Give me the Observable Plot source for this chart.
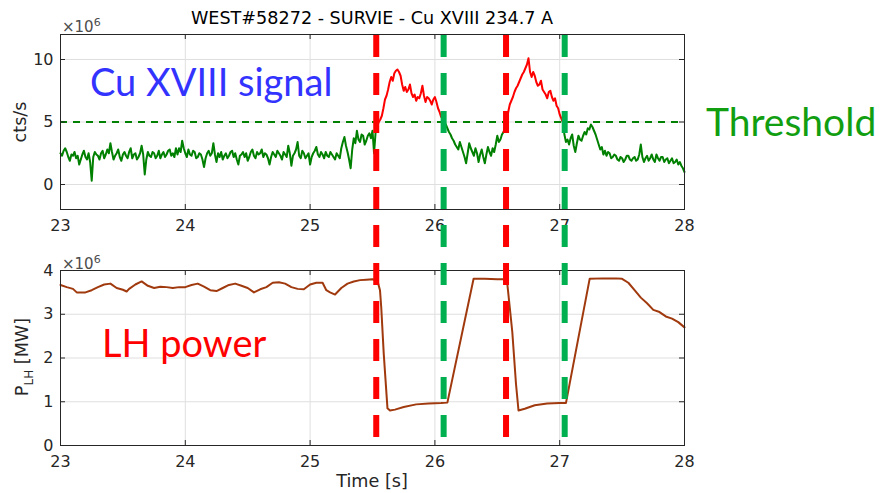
<!DOCTYPE html>
<html>
<head>
<meta charset="utf-8">
<script src="https://cdn.jsdelivr.net/npm/d3@7"></script>
<script src="https://cdn.jsdelivr.net/npm/@observablehq/plot@0.6"></script>
<style>
  html, body { margin: 0; padding: 0; background: #fff; }
  #root { position: relative; width: 880px; height: 493px; overflow: hidden; font-family: "DejaVu Sans", sans-serif; color: #262626; }
  #root > svg { position: absolute; left: 0; }
  .t { position: absolute; white-space: nowrap; line-height: 1; }
  .ann { font-family: Lato, "Open Sans", sans-serif; font-size: 38px; }
</style>
</head>
<body>
<div id="root"></div>
<script>
// ---------- data ----------
const chartTitle = "WEST#58272 - SURVIE - Cu XVIII 234.7 A";
const xTicks = [23, 24, 25, 26, 27, 28];
const signalTicks = [0, 5, 10];
const powerTicks = [0, 1, 2, 3, 4];
const threshold = 5;

// Cu XVIII signal (x10^6 cts/s), sampled every 0.0125 s from 23 s
const signalStart = 23;
const signalStep = 0.0125;
const signalValues = [
  2.5, 2.3, 2.7, 2.9, 2.6, 2.2, 1.9, 2.4, 2.3, 2.6, 2.1, 2.3, 1.6, 2.0, 2.4, 2.7, 2.2, 2.0, 2.5, 1.8,
  0.3, 2.2, 2.6, 2.4, 2.3, 2.0, 2.5, 2.7, 2.1, 2.4, 2.8, 2.5, 3.3, 2.6, 2.0, 2.3, 2.5, 2.8, 2.2, 1.9,
  2.4, 2.6, 2.3, 2.1, 2.6, 2.9, 2.1, 2.4, 2.5, 2.0, 2.2, 2.5, 3.1, 2.4, 0.8, 2.0, 2.6, 2.3, 2.2, 2.6,
  2.5, 2.1, 2.3, 2.7, 2.1, 2.4, 2.6, 2.2, 2.4, 2.7, 2.8, 2.3, 2.5, 2.2, 2.9, 2.4, 2.9, 2.6, 3.5, 2.9,
  2.5, 2.2, 2.8, 2.4, 2.3, 2.7, 2.6, 2.1, 2.2, 2.5, 2.4, 2.0, 1.4, 2.1, 2.5, 2.7, 2.3, 2.5, 3.3, 2.4,
  1.8, 2.5, 2.2, 2.6, 2.0, 2.3, 2.5, 2.1, 2.3, 2.6, 2.7, 2.2, 2.5, 2.0, 1.6, 2.3, 2.4, 2.6, 2.2, 2.5,
  1.9, 2.2, 2.6, 2.8, 2.3, 2.1, 2.6, 2.4, 2.5, 2.8, 2.2, 2.5, 2.4, 2.1, 1.6, 2.2, 2.6, 2.4, 2.2, 2.7,
  2.5, 2.3, 2.0, 2.6, 2.4, 2.2, 3.1, 2.5, 1.5, 2.3, 2.5, 2.8, 3.4, 2.3, 2.1, 2.7, 2.5, 2.1, 2.3, 2.5,
  1.6, 2.2, 2.5, 2.7, 3.0, 2.4, 2.2, 2.6, 2.4, 2.1, 2.6, 2.3, 2.2, 2.6, 2.4, 2.2, 2.0, 2.5, 2.3, 2.1,
  2.9, 3.4, 3.8, 3.1, 2.6, 2.0, 1.3, 2.8, 3.7, 3.3, 4.3, 3.6, 3.4, 4.0, 3.9, 3.2, 3.5, 3.9, 4.1, 3.7,
  4.3, 2.5, 4.2, 4.7, 5.0, 5.2, 5.5, 6.1, 6.8, 7.1, 7.6, 8.2, 8.6, 8.3, 8.9, 9.1, 9.2, 9.0, 8.7, 8.0,
  7.5, 7.8, 7.4, 7.6, 8.0, 7.3, 7.0, 7.2, 6.7, 7.0, 6.9, 7.3, 7.9, 7.1, 6.6, 7.0, 6.9, 6.7, 6.4, 6.8,
  7.0, 6.6, 6.1, 5.8, 5.4, 5.3, 5.0, 4.8, 4.5, 4.2, 4.0, 3.7, 3.5, 3.2, 3.0, 2.8, 3.4, 3.0, 2.6, 2.2,
  1.7, 2.5, 3.3, 2.9, 2.6, 2.3, 2.9, 2.5, 1.8, 2.4, 2.8, 2.2, 1.7, 2.4, 3.0, 2.6, 2.3, 2.9, 2.6, 3.2,
  3.9, 3.4, 3.6, 4.0, 4.2, 4.6, 5.1, 5.8, 6.4, 6.7, 7.0, 7.4, 7.7, 7.9, 8.2, 8.5, 8.8, 9.0, 9.3, 9.6,
  10.1, 9.0, 8.6, 9.0, 8.7, 8.2, 7.9, 8.0, 8.3, 7.6, 7.4, 7.2, 6.9, 7.4, 7.5, 7.0, 6.7, 6.9, 6.3, 6.1,
  5.6, 5.3, 5.0, 4.0, 3.4, 3.6, 3.2, 3.7, 4.0, 3.1, 2.6, 3.3, 3.9, 3.6, 3.5, 3.9, 4.2, 4.0, 4.5, 4.4,
  4.8, 4.6, 4.3, 4.0, 3.6, 3.2, 2.8, 3.0, 2.4, 2.7, 2.3, 2.6, 2.5, 2.1, 2.2, 2.4, 2.3, 2.0, 1.9, 2.2,
  2.1, 1.8, 2.0, 2.3, 2.3, 2.0, 1.9, 2.1, 2.2, 1.9, 2.0, 2.4, 3.2, 2.2, 1.8, 2.1, 2.3, 1.9, 2.1, 2.4,
  2.0, 1.8, 2.4, 2.1, 1.9, 2.2, 2.2, 1.8, 2.0, 2.1, 1.7, 1.9, 2.1, 1.7, 1.8, 2.0, 1.6, 1.8, 1.5, 1.3,
  1.0
];
// intervals where the signal is drawn red (above threshold)
const aboveStart = [25.525, 26.55];
const aboveEnd = [26.075, 27.025];

// LH power (x10^6 MW)
const powerTime = [
  23.00, 23.05, 23.10, 23.13, 23.20, 23.25, 23.30, 23.35, 23.40, 23.45,
  23.50, 23.53, 23.55, 23.60, 23.65, 23.70, 23.75, 23.80, 23.85, 23.90,
  23.95, 24.00, 24.05, 24.10, 24.15, 24.20, 24.25, 24.30, 24.35, 24.40,
  24.45, 24.50, 24.55, 24.60, 24.65, 24.70, 24.75, 24.80, 24.85, 24.90,
  24.95, 25.00, 25.05, 25.10, 25.13, 25.16, 25.20, 25.25, 25.30, 25.35,
  25.40, 25.45, 25.50, 25.54, 25.56, 25.57, 25.59, 25.62, 25.64, 25.68,
  25.75, 25.85, 25.95, 26.05, 26.10, 26.31, 26.40, 26.50, 26.55, 26.58,
  26.60, 26.62, 26.65, 26.67, 26.72, 26.80, 26.90, 27.00, 27.05, 27.24,
  27.35, 27.45, 27.50, 27.55, 27.60, 27.65, 27.70, 27.75, 27.80, 27.85,
  27.90, 27.95, 28.00
];
const powerValue = [
  3.67, 3.62, 3.58, 3.50, 3.50, 3.55, 3.62, 3.68, 3.70, 3.60,
  3.56, 3.52, 3.58, 3.68, 3.75, 3.65, 3.60, 3.63, 3.62, 3.60,
  3.62, 3.62, 3.67, 3.70, 3.63, 3.55, 3.53, 3.60, 3.67, 3.70,
  3.65, 3.60, 3.50, 3.57, 3.62, 3.72, 3.73, 3.70, 3.62, 3.58,
  3.57, 3.68, 3.72, 3.72, 3.55, 3.50, 3.45, 3.60, 3.70, 3.75,
  3.78, 3.79, 3.80, 3.76, 3.55, 3.16, 2.10, 0.85, 0.80, 0.82,
  0.88, 0.94, 0.96, 0.97, 0.98, 3.81, 3.81, 3.80, 3.80, 3.70,
  3.15, 2.60, 1.40, 0.80, 0.84, 0.92, 0.96, 0.97, 0.97, 3.81,
  3.82, 3.82, 3.81, 3.72, 3.55, 3.38, 3.25, 3.10, 3.05, 2.95,
  2.90, 2.82, 2.70
];

// event markers (s)
const onsetTimes = [25.53, 26.57];   // red dashed
const recoveryTimes = [26.07, 27.04]; // green dashed

// ---------- build rows ----------
const signalRows = signalValues.map((v, i) => ({t: Math.round((signalStart + i * signalStep) * 10000) / 10000, v}));
const isAbove = t => aboveStart.some((a, k) => t >= a - 1e-9 && t <= aboveEnd[k] + 1e-9);
const segments = [];
let cur = null;
signalRows.forEach((p, i) => {
  const red = isAbove(p.t);
  if (!cur) { cur = {red, pts: [p]}; segments.push(cur); return; }
  if (red === cur.red) { cur.pts.push(p); return; }
  if (red) { cur.pts.push(p); cur = {red, pts: [p]}; }
  else { const prev = signalRows[i - 1]; cur = {red, pts: [prev, p]}; }
  segments.push(cur);
});
const powerRows = powerTime.map((t, i) => ({t, v: powerValue[i]}));

// ---------- layout ----------
const W = 880, L = 60, R = 196;
const frameW = W - L - R;
const axisStyle = {fontFamily: "DejaVu Sans, sans-serif", fontSize: "16px", color: "#262626", background: "transparent", overflow: "visible"};
const gridColor = "#dfdfdf";
const frameColor = "#262626";

function panel({height, mTop, mBottom, yDomain, yTicks, marks}) {
  const frameH = height - mTop - mBottom;
  return Plot.plot({
    width: W, height,
    marginLeft: L, marginRight: R, marginTop: mTop, marginBottom: mBottom,
    x: {domain: [23, 28], ticks: xTicks, label: null},
    y: {domain: yDomain, ticks: yTicks, label: null},
    style: axisStyle,
    marks: [
      Plot.gridX(xTicks, {stroke: gridColor, strokeOpacity: 1}),
      Plot.gridY(yTicks, {stroke: gridColor, strokeOpacity: 1}),
      ...marks,
      Plot.tickX(xTicks, {x: d => d, insetTop: frameH - 5, stroke: frameColor}),
      Plot.tickX(xTicks, {x: d => d, insetBottom: frameH - 5, stroke: frameColor}),
      Plot.tickY(yTicks, {y: d => d, insetRight: frameW - 5, stroke: frameColor}),
      Plot.tickY(yTicks, {y: d => d, insetLeft: frameW - 5, stroke: frameColor}),
      Plot.axisX(xTicks, {tickSize: 0, tickPadding: 10, label: null, tickFormat: d => String(d)}),
      Plot.axisY(yTicks, {tickSize: 0, tickPadding: 7, label: null, tickFormat: d => String(d)}),
      Plot.frame({stroke: frameColor, strokeWidth: 1})
    ]
  });
}

const topPlot = panel({
  height: 240, mTop: 34, mBottom: 31, yDomain: [-2, 12], yTicks: signalTicks,
  marks: [
    Plot.ruleY([threshold], {stroke: "#008000", strokeWidth: 2, strokeDasharray: "7,6"}),
    ...segments.map(s => Plot.line(s.pts, {x: "t", y: "v", stroke: s.red ? "#ff0000" : "#008000", strokeWidth: 2, strokeLinejoin: "round"}))
  ]
});
topPlot.style.top = "0px";

const bottomPlot = panel({
  height: 253, mTop: 30, mBottom: 48, yDomain: [0, 4], yTicks: powerTicks,
  marks: [
    Plot.line(powerRows, {x: "t", y: "v", stroke: "#a03a0e", strokeWidth: 2, strokeLinejoin: "round"})
  ]
});
bottomPlot.style.top = "240px";

const overlayPlot = Plot.plot({
  width: W, height: 493,
  marginLeft: L, marginRight: R, marginTop: 35, marginBottom: 54,
  x: {domain: [23, 28], axis: null},
  y: {domain: [0, 1], axis: null},
  style: {background: "transparent", overflow: "visible"},
  marks: [
    Plot.ruleX(onsetTimes, {x: d => d, stroke: "#ff0000", strokeWidth: 6, strokeDasharray: "22,16"}),
    Plot.ruleX(recoveryTimes, {x: d => d, stroke: "#00b050", strokeWidth: 6, strokeDasharray: "22,16"})
  ]
});
overlayPlot.style.top = "0px";
overlayPlot.style.pointerEvents = "none";

const root = document.getElementById("root");
root.append(topPlot, bottomPlot, overlayPlot);

function addText(html, css, cls = "t") {
  const d = document.createElement("div");
  d.className = cls;
  d.innerHTML = html;
  Object.assign(d.style, css);
  root.append(d);
  return d;
}
// title
addText(chartTitle, {left: "372px", top: "10px", fontSize: "17.6px", transform: "translateX(-50%)", color: "#000"});
// exponent labels
addText('×10<sup style="font-size:11px;vertical-align:6px">6</sup>', {left: "62px", top: "17px", fontSize: "15px", color: "#4d4d4d"});
addText('×10<sup style="font-size:11px;vertical-align:6px">6</sup>', {left: "62px", top: "254px", fontSize: "15px", color: "#4d4d4d"});
// axis labels
addText("cts/s", {left: "21px", top: "122px", fontSize: "17.6px", transform: "translate(-50%,-50%) rotate(-90deg)"});
addText('P<sub style="font-size:12px;vertical-align:-5px">LH</sub> [MW]', {left: "22px", top: "357px", fontSize: "17.6px", height: "18px", lineHeight: "18px", transform: "translate(-50%,-50%) rotate(-90deg)"});
addText("Time [s]", {left: "372px", top: "473px", fontSize: "17.6px", transform: "translateX(-50%)"});
// annotations
addText("Cu XVIII signal", {left: "90px", top: "62px", color: "#3333ff"}, "t ann");
addText("Threshold", {left: "706px", top: "102px", color: "#119e11", fontSize: "39px"}, "t ann");
addText("LH power", {left: "102px", top: "323px", color: "#ff0000"}, "t ann");
</script>
</body>
</html>
